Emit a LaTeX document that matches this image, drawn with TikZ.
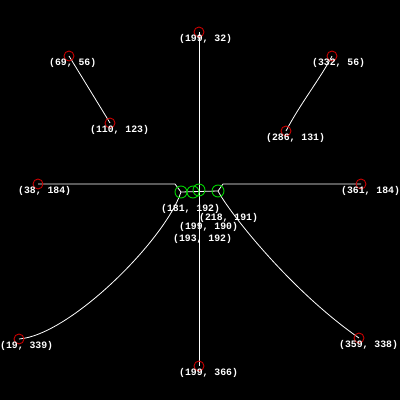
\documentclass[tikz,border=0pt]{standalone}
\usepackage{fontspec}
\setmonofont{Liberation Mono}
\definecolor{cred}{RGB}{200,0,0}
\definecolor{cgreen}{RGB}{0,210,0}
\begin{document}
\begin{tikzpicture}[x=1pt,y=-1pt,
  wire/.style={draw=white,line width=0.8pt},
  redpt/.style={draw=cred,line width=0.9pt,circle,minimum size=10pt,inner sep=0pt},
  greenpt/.style={draw=cgreen,line width=0.9pt,circle,minimum size=12pt,inner sep=0pt},
  lbl/.style={text=white,font=\fontsize{9.8}{10}\ttfamily\bfseries,anchor=base west,inner sep=0pt}]
\fill[black] (0,0) rectangle (400,400);
\useasboundingbox (0,0) rectangle (400,400);
% points
\coordinate (top) at (199,32);
\coordinate (ula) at (69,56);
\coordinate (ura) at (332,56);
\coordinate (ulb) at (110,123);
\coordinate (urb) at (286,131);
\coordinate (ml) at (38,184);
\coordinate (mr) at (361,184);
\coordinate (bl) at (19,339);
\coordinate (br) at (359,338);
\coordinate (bot) at (199,366);
\coordinate (g1) at (181,192);
\coordinate (g2) at (218,191);
\coordinate (g3) at (199,190);
\coordinate (g4) at (193,192);
\coordinate (kl) at (175,184);
\coordinate (kr) at (223,184);
% wires
\draw[wire] (top) -- (bot);
\draw[wire] (ula) .. controls (80,74) and (96,100) .. (ulb);
\draw[wire] (ura) .. controls (322,76) and (300,104) .. (urb);
\draw[wire] (ml) -- (kl) -- (g1) -- (g2) -- (kr) -- (mr);
\draw[wire] (bl) .. controls (70,335) and (165,240) .. (g1);
\draw[wire] (g2) .. controls (229,212) and (290,290) .. (br);
% circles
\foreach \p in {top,ula,ura,ulb,urb,ml,mr,bl,br,bot} \node[redpt] at (\p) {};
\foreach \p in {g1,g2,g3,g4} \node[greenpt] at (\p) {};
% labels
\node[lbl] (t1) at (179,41) {(199, 32)};
\node[lbl] (t2) at (49,65) {(69, 56)};
\node[lbl] (t3) at (312,65) {(332, 56)};
\node[lbl] (t4) at (90,132) {(110, 123)};
\node[lbl] (t5) at (266,140) {(286, 131)};
\node[lbl] (t6) at (18,193) {(38, 184)};
\node[lbl] (t7) at (341,193) {(361, 184)};
\node[lbl] (t8) at (0,348) {(19, 339)};
\node[lbl] (t9) at (339,347) {(359, 338)};
\node[lbl] (t10) at (179,375) {(199, 366)};
\node[lbl] (t11) at (161,211) {(181, 192)};
\node[lbl] (t12) at (199,220) {(218, 191)};
\node[lbl] (t13) at (179,229) {(199, 190)};
\node[lbl] (t14) at (173,241.5) {(193, 192)};
\end{tikzpicture}
\end{document}
